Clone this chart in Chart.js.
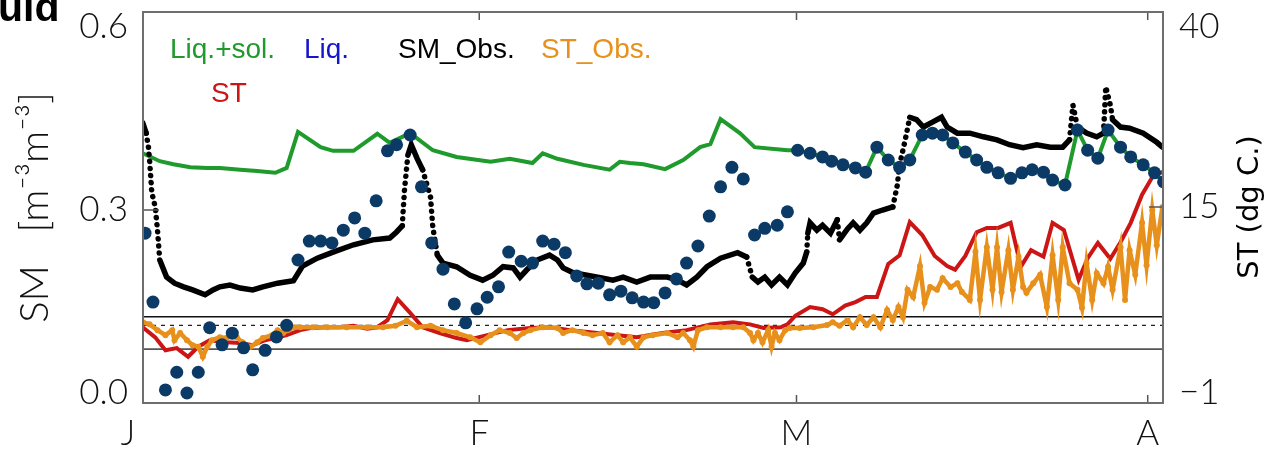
<!DOCTYPE html>
<html>
<head>
<meta charset="utf-8">
<script src="https://cdn.jsdelivr.net/npm/chart.js@4.4.0/dist/chart.umd.min.js"></script>
<style>
  html, body { margin: 0; padding: 0; background: #fff; }
  #wrap { width: 1268px; height: 449px; position: relative; }
</style>
</head>
<body>
<div id="wrap"><canvas id="chart"></canvas></div>
<script>
// x values are days since 1 Jan, SM in m3/m3, ST in deg C

const monthDays = [0, 31, 59, 90];
const monthLabels = ['J', 'F', 'M', 'A'];
const smTicks = [0, 0.3, 0.6];
const stTickVals = [-10.8, 15, 40];
const stTickLabels = ['\u22121', '15', '40'];
const refLevels = [0.125, 0.111, 0.072];

// Liq.+sol. (model, liquid + solid)
const totDays = [1.3, 2.8, 4.0, 5.5, 7.0, 8.1, 9.9, 11.4, 13.0, 14.0, 15.0, 17.0, 18.1, 19.9, 22.0, 23.1, 24.9,
  26.9, 29.0, 32.0, 33.7, 35.7, 36.6, 37.9, 40.2, 42.5, 43.4, 44.3, 45.5, 47.4, 49.0, 50.5, 51.4, 52.3, 54.0,
  55.3, 58.2, 59.1, 60.2, 61.3, 62.1, 63.1, 64.2, 65.1, 66.1, 67.1, 68.1, 69.0, 70.1, 71.0, 71.9, 72.8, 73.9,
  74.9, 75.8, 76.8, 77.9, 78.9, 79.8, 80.8, 81.6, 82.7, 83.8, 84.7, 85.6, 86.5, 87.6, 88.5, 89.6, 90.6, 91.4];
const totSM = [0.393, 0.380, 0.375, 0.370, 0.369, 0.369, 0.366, 0.364, 0.361, 0.369, 0.428, 0.403, 0.397, 0.397,
  0.425, 0.410, 0.426, 0.398, 0.387, 0.379, 0.384, 0.377, 0.393, 0.384, 0.374, 0.366, 0.379, 0.377, 0.375,
  0.367, 0.382, 0.403, 0.408, 0.449, 0.426, 0.403, 0.398, 0.398, 0.393, 0.387, 0.380, 0.374, 0.369, 0.362,
  0.403, 0.382, 0.370, 0.382, 0.423, 0.426, 0.423, 0.410, 0.395, 0.382, 0.370, 0.361, 0.352, 0.361, 0.366,
  0.362, 0.349, 0.341, 0.431, 0.398, 0.385, 0.431, 0.403, 0.387, 0.374, 0.361, 0.346];

// Liq. (model, liquid only)
const liqDays = [1.5, 2.2, 3.3, 4.3, 5.2, 6.2, 7.2, 8.3, 9.2, 10.2, 11.0, 12.1, 13.1, 14.0, 15.0, 16.0, 17.0, 18.0,
  19.0, 20.0, 20.9, 21.9, 22.9, 23.7, 24.9, 25.9, 26.8, 27.8, 28.8, 29.8, 30.8, 31.7, 32.7, 33.6, 34.7, 35.7,
  36.6, 37.6, 38.6, 39.6, 40.5, 41.5, 42.5, 43.5, 44.5, 45.5, 46.4, 47.4, 48.4, 49.3, 50.3, 51.3, 52.3, 53.3,
  54.3, 55.3, 56.2, 57.3, 58.2, 59.1, 60.2, 61.3, 62.1, 63.1, 64.2, 65.1, 66.1, 67.1, 68.1, 69.0, 70.1, 71.0,
  71.9, 72.8, 73.9, 74.9, 75.8, 76.8, 77.9, 78.9, 79.8, 80.8, 81.6, 82.7, 83.8, 84.7, 85.6, 86.5, 87.6, 88.5,
  89.6, 90.6, 91.4];
const liqSM = [0.262, 0.149, 0.005, 0.034, 0.000, 0.034, 0.107, 0.079, 0.098, 0.074, 0.038, 0.070, 0.092, 0.111,
  0.218, 0.249, 0.249, 0.246, 0.267, 0.287, 0.262, 0.315, 0.397, 0.407, 0.423, 0.338, 0.246, 0.203, 0.146,
  0.115, 0.138, 0.157, 0.174, 0.231, 0.216, 0.213, 0.249, 0.244, 0.230, 0.192, 0.179, 0.180, 0.161, 0.167,
  0.156, 0.149, 0.148, 0.164, 0.187, 0.213, 0.241, 0.290, 0.338, 0.370, 0.351, 0.259, 0.270, 0.275, 0.297,
  0.398, 0.393, 0.387, 0.380, 0.374, 0.369, 0.362, 0.403, 0.382, 0.370, 0.382, 0.423, 0.426, 0.423, 0.410,
  0.395, 0.382, 0.370, 0.361, 0.352, 0.361, 0.366, 0.362, 0.349, 0.341, 0.431, 0.398, 0.385, 0.431, 0.403,
  0.387, 0.374, 0.361, 0.346];

// SM_Obs. (station)
const obsDays = [1.3, 1.6, 1.8, 1.9, 2.1, 2.4, 2.6, 2.8, 3.4, 4.1, 4.9, 5.7, 6.8, 7.5, 8.1, 9.0, 9.9, 11.0, 11.9,
  13.2, 14.6, 15.4, 16.7, 18.1, 19.9, 21.6, 23.1, 23.7, 24.2, 24.4, 24.7, 25.0, 25.5, 26.0, 26.7, 26.9, 27.3,
  27.8, 29.0, 30.2, 31.3, 32.2, 33.1, 34.0, 34.6, 35.2, 36.1, 37.2, 37.9, 38.4, 39.3, 40.5, 41.7, 42.8, 43.7,
  44.9, 46.1, 47.6, 48.5, 49.3, 50.2, 51.1, 52.3, 53.8, 54.6, 55.1, 55.6, 56.2, 56.8, 57.5, 58.2, 58.9, 59.6,
  59.9, 60.0, 60.2, 60.8, 61.3, 62.0, 62.6, 62.8, 63.5, 64.0, 64.6, 65.2, 65.8, 66.6, 67.5, 67.9, 68.1, 68.6,
  69.0, 69.6, 70.2, 71.0, 71.8, 72.3, 73.2, 74.3, 75.5, 76.7, 77.8, 79.0, 80.2, 81.4, 82.5, 83.1, 83.4, 83.8,
  84.6, 85.5, 86.1, 86.3, 86.7, 86.9, 87.6, 88.4, 89.6, 90.8, 91.3];
const obsSM = [0.443, 0.426, 0.403, 0.382, 0.328, 0.305, 0.267, 0.218, 0.190, 0.180, 0.174, 0.169, 0.161, 0.169,
  0.174, 0.177, 0.172, 0.169, 0.174, 0.180, 0.184, 0.208, 0.221, 0.231, 0.243, 0.251, 0.254, 0.264, 0.274,
  0.333, 0.390, 0.407, 0.385, 0.366, 0.321, 0.272, 0.226, 0.213, 0.207, 0.193, 0.185, 0.193, 0.207, 0.205,
  0.190, 0.202, 0.218, 0.226, 0.218, 0.205, 0.197, 0.193, 0.189, 0.185, 0.190, 0.182, 0.190, 0.190, 0.185,
  0.177, 0.190, 0.207, 0.221, 0.230, 0.223, 0.190, 0.182, 0.190, 0.177, 0.190, 0.177, 0.197, 0.213, 0.231,
  0.262, 0.279, 0.267, 0.275, 0.262, 0.284, 0.251, 0.269, 0.279, 0.267, 0.279, 0.295, 0.300, 0.305, 0.341,
  0.374, 0.415, 0.452, 0.448, 0.436, 0.444, 0.452, 0.436, 0.426, 0.426, 0.420, 0.415, 0.407, 0.402, 0.407,
  0.403, 0.403, 0.415, 0.472, 0.436, 0.426, 0.420, 0.426, 0.502, 0.472, 0.448, 0.436, 0.434, 0.426, 0.411,
  0.403];

// ST (model soil temperature)
const stDays = [1.3, 2.4, 3.3, 4.3, 5.3, 6.2, 7.2, 8.7, 9.9, 11.0, 12.1, 13.2, 14.0, 15.2, 16.1, 17.6, 18.7, 19.9,
  21.1, 22.0, 22.9, 23.8, 24.9, 26.0, 27.5, 29.0, 29.9, 31.7, 33.5, 35.5, 37.3, 39.0, 40.8, 43.2, 44.9, 47.2,
  49.3, 51.4, 53.4, 54.9, 56.1, 57.6, 58.2, 58.9, 60.2, 61.3, 62.2, 63.3, 64.2, 65.1, 66.1, 67.1, 68.1, 69.0,
  70.1, 71.2, 72.3, 73.0, 73.9, 74.9, 75.8, 76.8, 77.9, 78.8, 79.7, 80.8, 81.6, 82.6, 83.9, 84.7, 85.6, 86.7,
  87.6, 88.5, 89.5, 90.5, 91.4];
const stVals = [-1.7, -3.1, -4.9, -4.6, -5.8, -4.4, -3.5, -3.8, -3.9, -4.2, -3.5, -3.1, -2.8, -2.1, -1.8, -1.7,
  -1.7, -1.5, -1.9, -1.7, -0.7, 2.2, 0.3, -1.7, -2.5, -3.2, -3.5, -2.8, -2.1, -1.8, -1.7, -2.1, -2.4, -2.8,
  -3.1, -2.5, -2.1, -1.3, -1.0, -1.3, -1.8, -1.7, -1.3, -0.1, 1.1, 0.8, 0.1, 1.3, 1.8, 2.5, 2.5, 7.1, 8.3,
  12.9, 11.1, 8.2, 6.8, 6.3, 8.2, 11.5, 12.1, 12.1, 12.8, 6.7, 9.0, 8.1, 12.8, 11.8, 4.9, 7.9, 10.0, 7.8,
  10.1, 12.8, 16.7, 19.4, 19.9];

// ST_Obs. (station soil temperature)
const stObsDays = [1.3, 1.9, 2.6, 3.3, 3.9, 4.1, 4.6, 5.2, 5.7, 6.2, 6.6, 7.0, 7.4, 8.1, 8.7, 9.2, 9.6, 10.1, 10.8,
  11.4, 11.9, 12.7, 13.2, 13.7, 14.1, 14.7, 15.2, 16.3, 17.6, 19.3, 21.1, 22.5, 23.6, 24.6, 25.5, 26.7, 27.8,
  29.0, 30.2, 31.1, 32.0, 32.8, 33.7, 34.3, 34.9, 35.5, 36.6, 37.9, 38.4, 39.2, 40.2, 41.0, 41.9, 42.5, 43.2,
  43.7, 44.3, 44.9, 45.5, 46.3, 47.6, 48.5, 49.0, 49.6, 49.9, 50.3, 51.1, 52.3, 53.4, 54.3, 54.9, 55.2, 55.6,
  56.0, 56.5, 56.8, 57.1, 57.5, 58.0, 58.4, 59.3, 60.5, 61.7, 62.2, 62.8, 63.5, 64.0, 64.6, 65.2, 65.8, 66.4,
  67.0, 67.5, 68.0, 68.4, 68.8, 69.3, 69.9, 70.3, 70.8, 71.4, 71.9, 72.6, 73.2, 73.6, 74.3, 74.8, 75.2, 75.8,
  76.3, 76.7, 77.1, 77.7, 78.1, 78.6, 79.0, 79.3, 79.9, 80.5, 81.1, 81.6, 82.1, 82.5, 83.1, 83.8, 84.2, 84.6,
  85.1, 85.5, 86.1, 86.5, 86.9, 87.6, 88.0, 88.4, 88.9, 89.5, 89.9, 90.4, 90.8, 91.3];
const stObsVals = [-1.0, -1.3, -2.1, -2.8, -2.1, -3.5, -2.5, -3.5, -4.2, -4.4, -5.8, -4.4, -3.5, -3.1, -3.2, -2.5,
  -3.1, -3.8, -4.4, -3.8, -3.2, -2.8, -2.1, -2.5, -2.1, -1.7, -1.7, -1.7, -1.7, -1.7, -1.7, -1.7, -1.5, -0.8,
  -1.7, -1.5, -2.1, -2.5, -3.1, -3.8, -2.8, -2.1, -2.5, -3.2, -2.5, -2.1, -1.7, -1.8, -2.5, -2.1, -2.5, -2.8,
  -2.5, -3.8, -2.8, -3.8, -3.1, -4.4, -3.1, -2.8, -2.5, -3.1, -2.5, -3.5, -4.4, -2.1, -1.7, -1.7, -1.7, -1.7,
  -2.5, -3.5, -2.5, -3.8, -2.1, -4.4, -2.5, -3.5, -2.1, -1.8, -1.8, -1.7, -1.4, -1.0, -1.5, -0.7, -1.7, -0.3,
  -1.4, -0.3, -1.7, 0.7, -0.7, 1.1, -0.3, 3.5, 2.5, 6.8, 1.7, 3.9, 3.5, 5.1, 3.9, 4.4, 3.2, 2.1, 8.8, 2.1,
  9.4, 3.5, 9.4, 3.2, 9.0, 3.5, 8.1, 3.9, 3.1, 4.4, 5.6, 1.1, 8.3, 2.1, 9.4, 4.4, 3.5, 1.0, 7.2, 2.1, 5.8,
  4.4, 6.7, 3.5, 9.4, 2.1, 9.0, 5.6, 12.8, 6.9, 14.6, 9.7, 15.0];

const X_MIN = 1.32, X_MAX = 91.35;
const THIN = "'Lato', 'Open Sans', sans-serif";
const SANS = "'Liberation Sans', Arial, sans-serif";

function pts(xs, ys) {
  return xs.map((x, i) => ({ x: x, y: ys[i] }));
}
function hline(v) {
  return [{ x: X_MIN, y: v }, { x: X_MAX, y: v }];
}
// hourly record: steep jumps show up as loose dots rather than a solid trace
function steepDots(c) {
  const dx = Math.abs(c.p1.x - c.p0.x), dy = Math.abs(c.p1.y - c.p0.y);
  return dy > 3 * dx && dy > 12 ? [0.1, 7] : undefined;
}

// Text, frame and small inward ticks drawn on top of the plot
const overlay = {
  id: 'overlay',
  afterDraw(chart) {
    const { ctx, chartArea: a, scales } = chart;
    ctx.save();

    // inward tick marks
    ctx.strokeStyle = '#555';
    ctx.lineWidth = 1.5;
    ctx.beginPath();
    const yl = scales.y.getPixelForValue(0.3);
    ctx.moveTo(a.left, yl); ctx.lineTo(a.left + 16, yl);
    const yr = scales.yST.getPixelForValue(15);
    ctx.moveTo(a.right, yr); ctx.lineTo(a.right - 14, yr);
    monthDays.slice(1).forEach(d => {
      const px = scales.x.getPixelForValue(d);
      ctx.moveTo(px, a.bottom); ctx.lineTo(px, a.bottom - 8);
      ctx.moveTo(px, a.top); ctx.lineTo(px, a.top + 8);
    });
    ctx.stroke();

    // frame
    ctx.strokeStyle = '#6e6e6e';
    ctx.lineWidth = 2;
    ctx.strokeRect(a.left, a.top, a.right - a.left, a.bottom - a.top);

    // in-plot legend
    ctx.font = '28px ' + SANS;
    ctx.textBaseline = 'alphabetic';
    ctx.textAlign = 'left';
    [['Liq.+sol.', '#1f9a2c', 170, 58], ['Liq.', '#1515cc', 304, 58], ['SM_Obs.', '#000000', 398, 58],
     ['ST_Obs.', '#e8901c', 541, 58], ['ST', '#cc1515', 211, 102]].forEach(t => {
      ctx.fillStyle = t[1];
      ctx.fillText(t[0], t[2], t[3]);
    });

    // right axis title, reading upwards
    ctx.save();
    ctx.translate(1250, 207);
    ctx.rotate(-Math.PI / 2);
    ctx.textAlign = 'center';
    ctx.textBaseline = 'middle';
    ctx.fillStyle = '#000';
    ctx.font = "29px 'DejaVu Sans', sans-serif";
    ctx.fillText('ST (dg C.)', 0, 0);
    ctx.restore();

    // clipped panel title at top left
    ctx.fillStyle = '#000';
    ctx.font = 'bold 41px ' + SANS;
    ctx.fillText('uid', -2, 21);
    ctx.restore();
  }
};

new Chart(document.getElementById('chart'), {
  type: 'scatter',
  data: {
    datasets: [
      { label: 'Liq.', data: pts(liqDays, liqSM), yAxisID: 'y', showLine: false,
        pointRadius: 6.5, pointBackgroundColor: '#0b3a66', pointBorderWidth: 0, order: 1 },
      { label: 'SM_Obs.', data: pts(obsDays, obsSM), yAxisID: 'y', showLine: true,
        borderColor: '#000', borderWidth: 5.5, borderCapStyle: 'round', pointRadius: 0,
        segment: { borderDash: steepDots }, order: 2 },
      { label: 'Liq.+sol.', data: pts(totDays, totSM), yAxisID: 'y', showLine: true,
        borderColor: '#1f9a2c', borderWidth: 4, pointRadius: 0, order: 3 },
      { label: 'ST_Obs.', data: pts(stObsDays, stObsVals), yAxisID: 'yST', showLine: true,
        borderColor: '#e8901c', borderWidth: 4.5, pointRadius: 3, pointBackgroundColor: '#e8901c',
        pointBorderWidth: 0, order: 4 },
      { label: 'ST', data: pts(stDays, stVals), yAxisID: 'yST', showLine: true,
        borderColor: '#cc1515', borderWidth: 4, pointRadius: 0, order: 5 },
      { label: 'ref1', data: hline(refLevels[0]), yAxisID: 'y', showLine: true,
        borderColor: '#111', borderWidth: 1.3, pointRadius: 0, order: 6 },
      { label: 'ref2', data: hline(refLevels[1]), yAxisID: 'y', showLine: true,
        borderColor: '#222', borderWidth: 1.2, borderDash: [4, 5], pointRadius: 0, order: 6 },
      { label: 'ref3', data: hline(refLevels[2]), yAxisID: 'y', showLine: true,
        borderColor: '#555', borderWidth: 1.8, pointRadius: 0, order: 6 }
    ]
  },
  options: {
    responsive: true,
    maintainAspectRatio: false,
    animation: false,
    layout: { padding: { top: 12, left: 0, right: 0, bottom: 0 } },
    plugins: { legend: { display: false }, tooltip: { enabled: false } },
    scales: {
      x: {
        type: 'linear', min: X_MIN, max: X_MAX,
        grid: { display: false }, border: { display: false },
        afterBuildTicks: s => { s.ticks = monthDays.map(v => ({ value: v })); },
        afterFit: s => { s.height = 46; s.paddingLeft = 0; s.paddingRight = 0; },
        ticks: {
          autoSkip: false, maxRotation: 0, padding: 5, color: '#111',
          font: { family: THIN, size: 35, weight: '300', lineHeight: 1 },
          callback: (v, i) => monthLabels[i]
        }
      },
      y: {
        position: 'left', min: -0.0164, max: 0.6246,
        grid: { display: false }, border: { display: false },
        afterBuildTicks: s => { s.ticks = smTicks.map(v => ({ value: v })); },
        afterFit: s => { s.width = 143; s.paddingTop = 0; s.paddingBottom = 0; },
        ticks: {
          padding: 7, color: '#111',
          font: { family: THIN, size: 35, weight: '300' },
          callback: v => v.toFixed(1)
        },
        title: {
          display: true, text: 'SM   [m\u207B\u00B3m\u207B\u00B3]', color: '#111',
          font: { family: THIN, size: 40, weight: '300', lineHeight: 1 },
          padding: { top: 15, bottom: 0 }
        }
      },
      yST: {
        position: 'right', min: -12.22, max: 42.08,
        grid: { display: false }, border: { display: false },
        afterBuildTicks: s => { s.ticks = stTickVals.map(v => ({ value: v })); },
        afterFit: s => { s.width = 105; s.paddingTop = 0; s.paddingBottom = 0; },
        ticks: {
          padding: 8, color: '#111',
          font: { family: THIN, size: 35, weight: '300' },
          callback: (v, i) => stTickLabels[i]
        }
      }
    }
  },
  plugins: [overlay]
});
</script>
</body>
</html>
